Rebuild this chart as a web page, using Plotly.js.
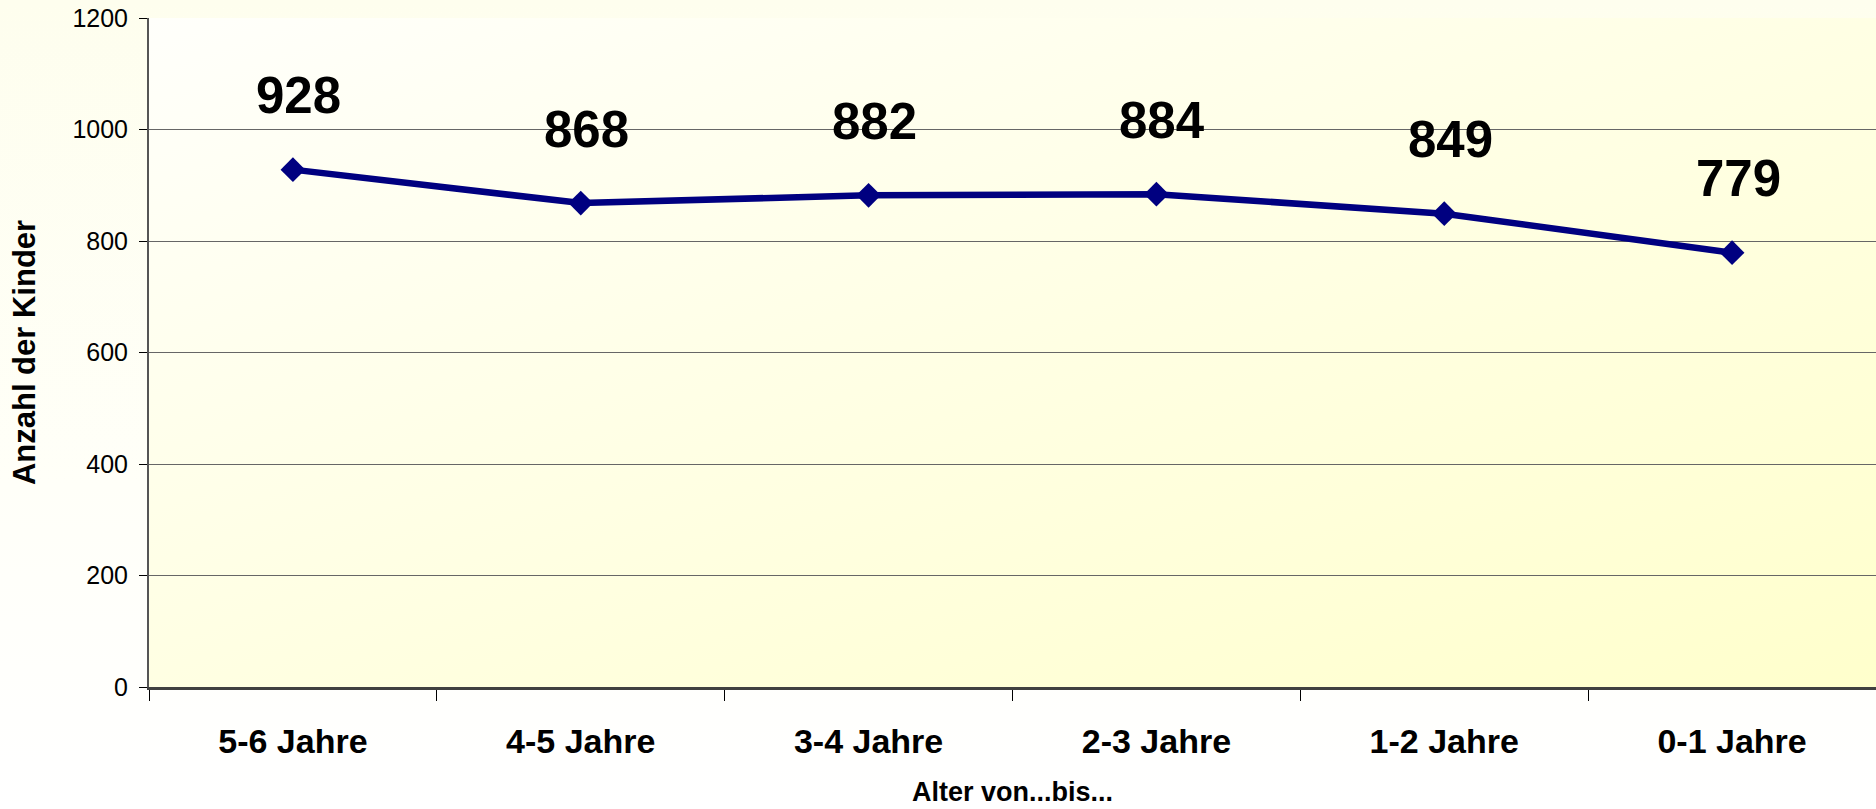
<!DOCTYPE html>
<html>
<head>
<meta charset="utf-8">
<script src="https://cdn.plot.ly/plotly-3.0.1.min.js"></script>
<style>
  html, body { margin: 0; padding: 0; }
  #wrap { position: relative; width: 1876px; height: 809px;
          background: linear-gradient(180deg, #FEFEEE 0%, #FFFFF8 60%, #FFFFFF 100%); }
  #plotbg { position: absolute; left: 149px; top: 18px; width: 1727px; height: 669px;
            background: linear-gradient(160deg, #FFFFFB 0%, #FFFFE8 40%, #FFFFCC 100%); }
  #chart { position: absolute; left: 0; top: 0; width: 1876px; height: 809px; }
</style>
</head>
<body>
<div id="wrap">
  <div id="plotbg"></div>
  <div id="chart"></div>
</div>
<script>
const categories = ["5-6 Jahre", "4-5 Jahre", "3-4 Jahre", "2-3 Jahre", "1-2 Jahre", "0-1 Jahre"];
const values = [928, 868, 882, 884, 849, 779];
const yTickVals = [0, 200, 400, 600, 800, 1000, 1200];
const xTitle = "Alter von...bis...";
const yTitle = "Anzahl der Kinder";

const FONT = "Liberation Sans, Arial, sans-serif";

const trace = {
  type: "scatter",
  mode: "lines+markers",
  x: categories,
  y: values,
  line: { color: "#000080", width: 6.5 },
  marker: { symbol: "diamond", size: 19, color: "#000080" },
  hoverinfo: "x+y",
  showlegend: false
};

const annotations = categories.map((c, i) => ({
  x: c, y: values[i], xref: "x", yref: "y",
  text: "<b>" + values[i] + "</b>",
  showarrow: false, yshift: 74, xshift: 6,
  font: { family: FONT, size: 51, color: "#000000" }
}));

const layout = {
  width: 1876, height: 809,
  margin: { l: 149, r: 0, t: 18, b: 122, pad: 0 },
  paper_bgcolor: "rgba(0,0,0,0)",
  plot_bgcolor: "rgba(0,0,0,0)",
  font: { family: FONT, color: "#000000" },
  xaxis: {
    type: "category",
    range: [-0.5, categories.length - 0.5],
    tickson: "boundaries",
    ticks: "outside", ticklen: 11, tickwidth: 1, tickcolor: "#000000",
    showline: true, linecolor: "#404040", linewidth: 3,
    showgrid: false, zeroline: false,
    tickfont: { family: FONT, size: 34, color: "#000000", weight: "bold" },
    ticklabelstandoff: 22,
    title: { text: "<b>" + xTitle + "</b>", font: { family: FONT, size: 27, color: "#000000" }, standoff: 24 },
    automargin: false, fixedrange: true
  },
  yaxis: {
    range: [0, 1200],
    tickvals: yTickVals,
    ticks: "outside", ticklen: 8, tickwidth: 1, tickcolor: "#000000",
    showline: true, linecolor: "#555555", linewidth: 2,
    showgrid: true, gridcolor: "#666666", gridwidth: 1,
    zeroline: false,
    tickfont: { family: FONT, size: 25, color: "#000000" },
    ticklabelstandoff: 6,
    title: { text: "<b>" + yTitle + "</b>", font: { family: FONT, size: 31, color: "#000000" }, standoff: 28 },
    automargin: false, fixedrange: true
  },
  annotations: annotations
};

Plotly.newPlot("chart", [trace], layout, { displayModeBar: false, staticPlot: true });
</script>
</body>
</html>
